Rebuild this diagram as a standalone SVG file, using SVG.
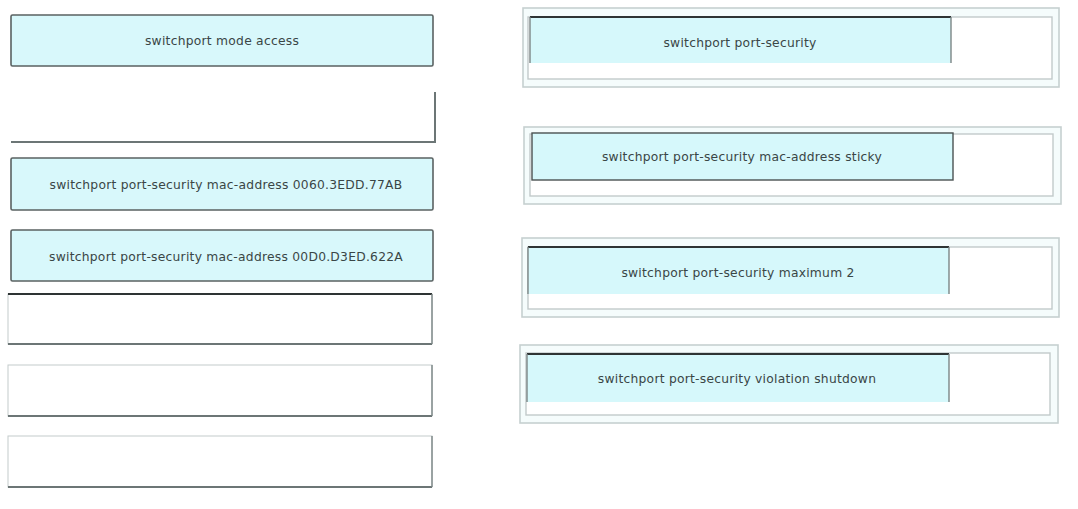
<svg xmlns="http://www.w3.org/2000/svg" width="1078" height="509" viewBox="0 0 1078 509">
<style>
.bg{fill:#ffffff}
.cy{fill:#d8f8fb;stroke:#5a6262;stroke-width:1.6}
.wb{fill:#ffffff;stroke:#c4cccc;stroke-width:1}
.bot{stroke:#6c7676;stroke-width:2;fill:none}
.side{stroke:#7c8686;stroke-width:1.4;fill:none}
.top{stroke:#2e3434;stroke-width:2;fill:none}
.outer{fill:#f5fcfc;stroke:#c6d0d0;stroke-width:1.6}
.inner{fill:#ffffff;stroke:#c2cacb;stroke-width:1.4}
.tile{fill:#d6f8fb}
.t{font-family:"DejaVu Sans",Verdana,sans-serif;font-size:12.3px;letter-spacing:0.25px;fill:#3a4646;text-anchor:middle}
</style>
<rect class="bg" x="0" y="0" width="1078" height="509"/>
<g id="left-1"><rect class="cy" x="11" y="15" width="422" height="51" rx="1.5"/><text class="t" x="222" y="45">switchport mode access</text></g>
<g id="left-2"><path class="bot" d="M11,142 H435 V92"/></g>
<g id="left-3"><rect class="cy" x="11" y="158" width="422" height="52" rx="1.5"/><text class="t" x="226" y="189">switchport port-security mac-address 0060.3EDD.77AB</text></g>
<g id="left-4"><rect class="cy" x="11" y="230" width="422" height="51" rx="1.5"/><text class="t" x="226" y="261">switchport port-security mac-address 00D0.D3ED.622A</text></g>
<g id="left-5"><rect class="wb" x="8" y="294" width="424" height="50"/><path class="top" d="M8,294 H432"/><path class="bot" d="M8,344 H432"/><path class="side" d="M432,294 V344"/></g>
<g id="left-6"><rect class="wb" x="8" y="365" width="424" height="51"/><path class="bot" d="M8,416 H432"/><path class="side" d="M432,365 V416"/></g>
<g id="left-7"><rect class="wb" x="8" y="436" width="424" height="51"/><path class="bot" d="M8,487 H432"/><path class="side" d="M432,436 V487"/></g>
<g id="right-1"><rect class="outer" x="523" y="8" width="536" height="79"/><rect class="inner" x="528" y="17" width="524" height="62"/><rect class="tile" x="530" y="17" width="421" height="46"/><path class="top" d="M530,17 H951"/><path class="side" d="M530,17 V63 M951,17 V63"/><text class="t" x="740" y="47">switchport port-security</text></g>
<g id="right-2"><rect class="outer" x="524" y="127" width="537" height="77"/><rect class="inner" x="530" y="134" width="523" height="62"/><rect x="532" y="133" width="421" height="47" fill="#d6f8fb" stroke="#4a5252" stroke-width="1.4"/><text class="t" x="742" y="161">switchport port-security mac-address sticky</text></g>
<g id="right-3"><rect class="outer" x="522" y="238" width="537" height="79"/><rect class="inner" x="528" y="247" width="524" height="62"/><rect class="tile" x="528" y="247" width="421" height="47"/><path class="top" d="M528,247 H949"/><path class="side" d="M528,247 V294 M949,247 V294"/><text class="t" x="738" y="277">switchport port-security maximum 2</text></g>
<g id="right-4"><rect class="outer" x="520" y="345" width="538" height="78"/><rect class="inner" x="526" y="353" width="524" height="62"/><rect class="tile" x="527" y="354" width="422" height="48"/><path class="top" d="M527,354 H949"/><path class="side" d="M527,354 V402 M949,354 V402"/><text class="t" x="737" y="383">switchport port-security violation shutdown</text></g>
<g id="connectors"></g>
</svg>
